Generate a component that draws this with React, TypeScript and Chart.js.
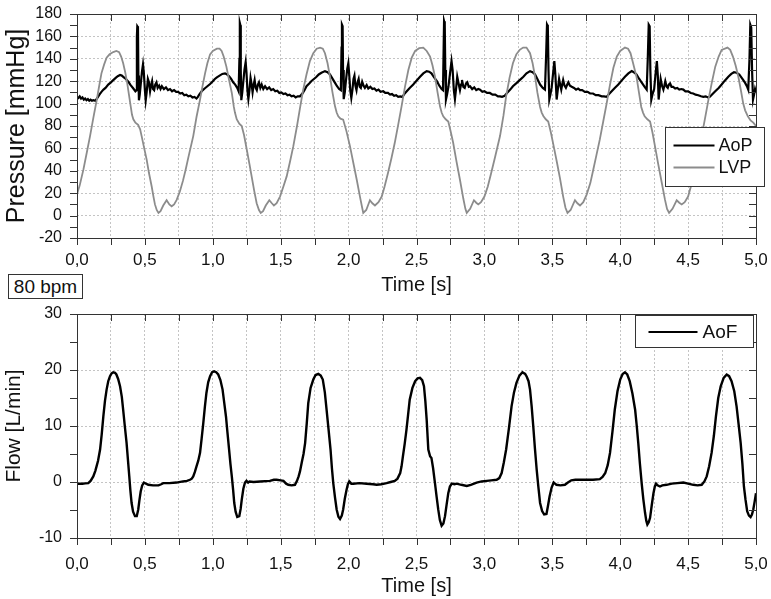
import React, { useEffect, useRef } from "react";
import { Chart, registerables } from "chart.js";

Chart.register(...registerables);

const FONT = '"Liberation Sans", Arial, Helvetica, sans-serif';

// Axis ranges and tick spacing
const timeRange = [0, 5];
const timeStep = 0.25;
const pressureRange = [-20, 180];
const pressureStep = 10;
const flowRange = [-10, 30];
const flowStep = 5;

// Left ventricular pressure [mmHg] over time [s]
const lvpSeries: [number, number][] = [
  [0, 19], [0.02, 27], [0.047, 41], [0.07, 55], [0.096, 71], [0.12, 87], [0.145, 103], [0.165, 117],
  [0.18, 127], [0.2, 135], [0.218, 141], [0.24, 144], [0.267, 146], [0.29, 147], [0.31, 146], [0.325, 142],
  [0.34, 136], [0.355, 128], [0.37, 118], [0.385, 106], [0.395, 98], [0.405, 90], [0.415, 86], [0.43, 83],
  [0.45, 81], [0.465, 77], [0.476, 71], [0.495, 60], [0.513, 50], [0.53, 38], [0.55, 26], [0.563, 17],
  [0.574, 10], [0.587, 5], [0.6, 2.4], [0.615, 4], [0.635, 9], [0.66, 13.7], [0.68, 10], [0.697, 8.3],
  [0.715, 10], [0.734, 14], [0.758, 21.7], [0.78, 31], [0.8, 41], [0.82, 52], [0.856, 71], [0.88, 88],
  [0.906, 103.6], [0.925, 116], [0.943, 127], [0.96, 136], [0.98, 144], [1.0, 147], [1.03, 149], [1.05, 149],
  [1.065, 147], [1.08, 142], [1.1, 133], [1.12, 121], [1.14, 109.5], [1.155, 97], [1.163, 92], [1.176, 86],
  [1.195, 82], [1.213, 80], [1.23, 72], [1.25, 59], [1.27, 46], [1.286, 35], [1.305, 22], [1.323, 11],
  [1.34, 5], [1.353, 2.4], [1.37, 4], [1.39, 9], [1.416, 13.7], [1.435, 11], [1.45, 9], [1.47, 11],
  [1.495, 17], [1.52, 26], [1.544, 35], [1.57, 49], [1.593, 62], [1.62, 80], [1.642, 96], [1.665, 112],
  [1.69, 126], [1.715, 138], [1.74, 145], [1.765, 149], [1.79, 150], [1.81, 149], [1.826, 145], [1.845, 136],
  [1.863, 124], [1.88, 111], [1.9, 97.6], [1.912, 92], [1.924, 88.7], [1.94, 86.5], [1.96, 85.7], [1.985, 75],
  [2.01, 62], [2.035, 47], [2.06, 32], [2.085, 16], [2.1, 7], [2.108, 2.4], [2.13, 5], [2.157, 13.7],
  [2.175, 11], [2.194, 9], [2.22, 12], [2.244, 17], [2.265, 26], [2.29, 38], [2.315, 51], [2.34, 65],
  [2.365, 81], [2.39, 97.6], [2.415, 115], [2.44, 130], [2.465, 141], [2.49, 147], [2.52, 149.5], [2.55, 150],
  [2.575, 147], [2.6, 142], [2.618, 134], [2.636, 124], [2.655, 110], [2.673, 97.6], [2.685, 92], [2.697, 88.7],
  [2.715, 86], [2.734, 84], [2.75, 76], [2.77, 65], [2.795, 48], [2.82, 32], [2.845, 15], [2.86, 6],
  [2.87, 2.4], [2.895, 6], [2.923, 13.7], [2.94, 11.5], [2.955, 10], [2.975, 12], [3.0, 17], [3.025, 26],
  [3.05, 38], [3.08, 53], [3.115, 71], [3.14, 89], [3.16, 106.5], [3.185, 123], [3.21, 136], [3.235, 144],
  [3.26, 148], [3.285, 150], [3.31, 150], [3.336, 145], [3.355, 136], [3.373, 124], [3.39, 110], [3.41, 97],
  [3.422, 92], [3.434, 89], [3.452, 86], [3.47, 84], [3.49, 74], [3.51, 62], [3.535, 47], [3.557, 33],
  [3.58, 17], [3.597, 7], [3.612, 2.4], [3.635, 5], [3.667, 13.7], [3.685, 11], [3.704, 9], [3.728, 12],
  [3.753, 18.75], [3.78, 29], [3.8, 40], [3.825, 54], [3.85, 68], [3.875, 84], [3.9, 100], [3.925, 117],
  [3.95, 132], [3.975, 142], [4.0, 147], [4.035, 150], [4.058, 149], [4.076, 145], [4.095, 136], [4.12, 124],
  [4.138, 110], [4.155, 97], [4.168, 92], [4.18, 88.7], [4.2, 86], [4.22, 84], [4.238, 74], [4.256, 62],
  [4.28, 46], [4.305, 30], [4.33, 14], [4.345, 6], [4.36, 2.4], [4.385, 6], [4.416, 13.7], [4.435, 11.5],
  [4.453, 10], [4.475, 12], [4.5, 17], [4.525, 28], [4.55, 41], [4.575, 56], [4.6, 71], [4.625, 87],
  [4.65, 103.6], [4.675, 119], [4.7, 133], [4.725, 142], [4.747, 148], [4.79, 150], [4.81, 148], [4.83, 142],
  [4.85, 134], [4.87, 124], [4.89, 111], [4.906, 100], [4.92, 94], [4.94, 88.7], [4.96, 85], [4.98, 83],
  [5.0, 80],
];

// Aortic pressure [mmHg] over time [s]
const aopSeries: [number, number][] = [
  [0, 106], [0.01, 105], [0.02, 106.5], [0.03, 104.5], [0.04, 105.5], [0.05, 103.5], [0.06, 104.5], [0.07, 103],
  [0.08, 104], [0.09, 102.5], [0.1, 103.5], [0.11, 102.5], [0.12, 103], [0.135, 102.5], [0.15, 105], [0.165, 108],
  [0.18, 110.5], [0.195, 112.5], [0.21, 114], [0.23, 117], [0.25, 119], [0.267, 121], [0.285, 123], [0.3, 124.5],
  [0.317, 125.5], [0.33, 125], [0.345, 123.5], [0.36, 122], [0.378, 119.5], [0.395, 116.5], [0.415, 113.5], [0.43, 111],
  [0.438, 112], [0.441, 160], [0.444, 169], [0.449, 168], [0.452, 125], [0.456, 103], [0.462, 108], [0.47, 118],
  [0.478, 128], [0.486, 135], [0.492, 128], [0.5, 112], [0.506, 103], [0.513, 110], [0.522, 122], [0.53, 119],
  [0.538, 111], [0.545, 116], [0.553, 120], [0.56, 113], [0.568, 112], [0.576, 117], [0.585, 119], [0.594, 114],
  [0.605, 116], [0.615, 113], [0.625, 115.5], [0.64, 113], [0.655, 114.5], [0.67, 112], [0.685, 113], [0.7, 111],
  [0.715, 112], [0.73, 110.5], [0.745, 110.5], [0.76, 109], [0.775, 109.5], [0.79, 107.5], [0.805, 108], [0.82, 106.5],
  [0.835, 107], [0.85, 105.5], [0.865, 106], [0.88, 104.5], [0.89, 106],
  [0.9, 108], [0.918, 111], [0.94, 113.5], [0.96, 115.5], [0.98, 117.5], [1.0, 120], [1.015, 122], [1.03, 123.5],
  [1.05, 125], [1.07, 126.5], [1.09, 127], [1.105, 126], [1.12, 124.5], [1.135, 122], [1.15, 119], [1.165, 117],
  [1.18, 114], [1.19, 111], [1.196, 140], [1.199, 172], [1.203, 170], [1.206, 130], [1.21, 103], [1.217, 110],
  [1.225, 120], [1.233, 130], [1.242, 137], [1.248, 128], [1.255, 112], [1.262, 104], [1.27, 112], [1.278, 123],
  [1.285, 118], [1.293, 110], [1.3, 116], [1.308, 121], [1.316, 114], [1.324, 112], [1.332, 117], [1.34, 119],
  [1.35, 114], [1.36, 117], [1.372, 113], [1.385, 115.5], [1.4, 113], [1.415, 114.5], [1.43, 112], [1.445, 113],
  [1.46, 111], [1.475, 111.5], [1.49, 109.5], [1.505, 110], [1.52, 108.5], [1.535, 109], [1.55, 107.5], [1.565, 108],
  [1.58, 106.5], [1.595, 107], [1.61, 105.5], [1.625, 106.5], [1.642, 106.5],
  [1.66, 109], [1.675, 112], [1.69, 115.5], [1.71, 118], [1.725, 120], [1.74, 121.5], [1.76, 123.5], [1.78, 126],
  [1.8, 127.5], [1.826, 129], [1.845, 128], [1.863, 126], [1.88, 122.5], [1.9, 118.5], [1.915, 115.5], [1.93, 113],
  [1.943, 112], [1.948, 150], [1.951, 170.5], [1.956, 169], [1.959, 130], [1.964, 104], [1.972, 110], [1.98, 120],
  [1.99, 131], [1.998, 136], [2.005, 125], [2.012, 112], [2.02, 105], [2.028, 112], [2.036, 122], [2.043, 125],
  [2.05, 116], [2.058, 112], [2.066, 119], [2.074, 122], [2.082, 115], [2.09, 114], [2.1, 119.5], [2.11, 116],
  [2.12, 114], [2.133, 116.5], [2.145, 113.5], [2.16, 115], [2.175, 113], [2.19, 113.5], [2.205, 111.5], [2.22, 112.5],
  [2.235, 110.5], [2.255, 111], [2.27, 109.5], [2.29, 109.5], [2.305, 108], [2.32, 108.5], [2.335, 107], [2.35, 107.5],
  [2.365, 106], [2.38, 106.5], [2.395, 106],
  [2.41, 108.5], [2.428, 111], [2.45, 114], [2.476, 117], [2.5, 120.5], [2.526, 124], [2.55, 127], [2.575, 129],
  [2.593, 128.5], [2.61, 127], [2.63, 123.5], [2.65, 120], [2.668, 116], [2.685, 113], [2.695, 112], [2.7, 150],
  [2.703, 173.5], [2.708, 171], [2.712, 130], [2.717, 103.6], [2.725, 108], [2.735, 115], [2.746, 126], [2.758, 138],
  [2.766, 130], [2.775, 112], [2.783, 104], [2.792, 114], [2.8, 124], [2.81, 118], [2.82, 112], [2.828, 117],
  [2.835, 121], [2.845, 115], [2.855, 114], [2.865, 118], [2.874, 119], [2.885, 115], [2.895, 115.5], [2.91, 113],
  [2.925, 114.5], [2.94, 112], [2.955, 113], [2.968, 112.5], [2.985, 110.5], [3.0, 111], [3.02, 109.5], [3.04, 109.5],
  [3.06, 108], [3.08, 108], [3.1, 106.5], [3.115, 106.5], [3.13, 106], [3.15, 107],
  [3.17, 110], [3.19, 112.5], [3.21, 115.5], [3.238, 118.5], [3.26, 121], [3.287, 124], [3.31, 127], [3.336, 129],
  [3.355, 128], [3.373, 126], [3.39, 122], [3.41, 117], [3.43, 114], [3.446, 112.5], [3.455, 145], [3.461, 170.5],
  [3.467, 169], [3.472, 130], [3.478, 103.6], [3.486, 108], [3.495, 114], [3.505, 126], [3.515, 138], [3.523, 125],
  [3.532, 103.6], [3.541, 113], [3.55, 122], [3.558, 117], [3.566, 112.5], [3.573, 117], [3.58, 121], [3.59, 116],
  [3.6, 114], [3.61, 117], [3.618, 119], [3.63, 116], [3.643, 115], [3.66, 114], [3.675, 112.5], [3.69, 113.5],
  [3.704, 112], [3.72, 112], [3.74, 110.5], [3.76, 110.5], [3.778, 109], [3.8, 109], [3.82, 107.5], [3.84, 107.5],
  [3.864, 106.5], [3.88, 106.5], [3.9, 106],
  [3.918, 108.5], [3.937, 111], [3.96, 114], [3.986, 117], [4.01, 120.5], [4.035, 124], [4.06, 127], [4.085, 129],
  [4.1, 128], [4.12, 126], [4.14, 122], [4.16, 118.5], [4.18, 115], [4.195, 112.5], [4.203, 140], [4.21, 170.5],
  [4.217, 169], [4.222, 130], [4.229, 103.6], [4.237, 108], [4.25, 113], [4.26, 126], [4.27, 138], [4.277, 125],
  [4.283, 103.6], [4.29, 112], [4.298, 122], [4.308, 116], [4.318, 112.5], [4.325, 116], [4.332, 120], [4.342, 115],
  [4.35, 114], [4.358, 117], [4.367, 118], [4.378, 115], [4.39, 115], [4.405, 113.5], [4.42, 114], [4.435, 112.5],
  [4.45, 113], [4.465, 112.5], [4.48, 111], [4.5, 111], [4.52, 109.5], [4.538, 109], [4.555, 108], [4.575, 107.5],
  [4.595, 106.5], [4.612, 106], [4.63, 106.5], [4.645, 105.5], [4.66, 106],
  [4.68, 108.5], [4.7, 111], [4.725, 114], [4.747, 117], [4.77, 120.5], [4.796, 124], [4.818, 126.5], [4.838, 128],
  [4.857, 127.5], [4.877, 126], [4.9, 122], [4.92, 118.5], [4.935, 115], [4.943, 112.5], [4.952, 140], [4.958, 170.5],
  [4.965, 168], [4.971, 130], [4.978, 103.6], [4.986, 108], [4.993, 113], [5.0, 110],
];

// Aortic flow [L/min] over time [s]
const aofSeries: [number, number][] = [
  [0, -0.3], [0.02, -0.3], [0.04, -0.3], [0.06, -0.25], [0.083, -0.2], [0.1, 0.2], [0.12, 1.0], [0.135, 2.0],
  [0.144, 2.8], [0.155, 3.8], [0.17, 5.8], [0.182, 8.5], [0.194, 11.7], [0.206, 14.5], [0.218, 16.5], [0.23, 18],
  [0.243, 18.9], [0.255, 19.4], [0.267, 19.6], [0.28, 19.5], [0.29, 19.2], [0.303, 18.4], [0.317, 17.1], [0.33, 15.2],
  [0.34, 12.9], [0.352, 10], [0.365, 7.0], [0.375, 4], [0.385, 1.0], [0.393, -1.5], [0.402, -3.75], [0.413, -5.3],
  [0.427, -6.1], [0.44, -6.1], [0.451, -4.9], [0.46, -3.2], [0.469, -1.7], [0.48, -0.6], [0.493, -0.1], [0.508, -0.3],
  [0.525, -0.5], [0.56, -0.6], [0.6, -0.6], [0.62, -0.4], [0.635, -0.2], [0.68, -0.2], [0.733, -0.1], [0.78, 0.1],
  [0.81, 0.2], [0.832, 0.4], [0.845, 0.6], [0.856, 1.0], [0.868, 1.8], [0.88, 2.8], [0.893, 3.8], [0.906, 5.2],
  [0.918, 7.8], [0.93, 10.5], [0.942, 13.5], [0.953, 15.9], [0.966, 17.8], [0.98, 18.9], [0.995, 19.6], [1.01, 19.75],
  [1.025, 19.6], [1.04, 19.2], [1.056, 18.2], [1.072, 16.5], [1.085, 14], [1.097, 11.7], [1.108, 8.8], [1.12, 5.8],
  [1.13, 3.2], [1.14, 1.0], [1.15, -1.5], [1.158, -3.75], [1.168, -5.3], [1.18, -6.25], [1.195, -6.1], [1.205, -4.8],
  [1.213, -3.2], [1.225, -1.2], [1.237, -0.1], [1.248, 0.2], [1.26, -0.1], [1.27, 0.1], [1.3, 0], [1.35, 0.1],
  [1.42, 0.2], [1.45, 0.4], [1.47, 0.4], [1.5, 0.3], [1.52, 0.2], [1.54, -0.3], [1.556, -0.5], [1.58, -0.6],
  [1.605, -0.5], [1.62, 0.2], [1.632, 1.0], [1.642, 1.9], [1.655, 3.5], [1.668, 5.0], [1.68, 7.0], [1.692, 10.5],
  [1.703, 14.1], [1.72, 16.8], [1.74, 18.3], [1.757, 19.1], [1.777, 19.3], [1.795, 19.0], [1.81, 18.3], [1.825, 16],
  [1.838, 12.9], [1.852, 9.5], [1.867, 5.8], [1.877, 2.5], [1.887, -0.2], [1.9, -2.8], [1.912, -4.9], [1.925, -6.2],
  [1.937, -6.6], [1.95, -6.0], [1.96, -4.9], [1.972, -3.0], [1.985, -1.4], [1.995, -0.4], [2.005, 0.1], [2.02, -0.3],
  [2.035, -0.3], [2.08, -0.2], [2.133, -0.3], [2.18, -0.4], [2.207, -0.5], [2.24, -0.4], [2.28, -0.2], [2.31, 0],
  [2.34, 0.2], [2.36, 0.6], [2.38, 1.6], [2.39, 2.8], [2.4, 4.6], [2.413, 6.8], [2.426, 9.3], [2.438, 12],
  [2.45, 14.7], [2.47, 16.8], [2.49, 18], [2.508, 18.5], [2.526, 18.6], [2.542, 18.2], [2.555, 17.1], [2.565, 14.5],
  [2.575, 11.1], [2.587, 5.8], [2.6, 4.6], [2.61, 4.3], [2.622, 2.5], [2.636, -0.2], [2.648, -2.6], [2.66, -4.9],
  [2.672, -6.8], [2.685, -7.8], [2.698, -7.4], [2.71, -6.1], [2.722, -4], [2.734, -2], [2.746, -0.8], [2.76, -0.3],
  [2.78, -0.4], [2.795, -0.3], [2.83, -0.5], [2.87, -0.7], [2.9, -0.5], [2.943, -0.1], [2.98, 0.1], [3.017, 0.2],
  [3.05, 0.3], [3.09, 0.4], [3.11, 0.7], [3.127, 1.6], [3.143, 3.5], [3.16, 5.8], [3.18, 9.5], [3.2, 13.5],
  [3.218, 16], [3.236, 17.7], [3.258, 19], [3.28, 19.6], [3.3, 19.3], [3.312, 18.8], [3.325, 18], [3.336, 16.5],
  [3.348, 13.5], [3.36, 9.9], [3.372, 6], [3.385, 2.2], [3.397, -0.8], [3.41, -3.75], [3.425, -5.2], [3.44, -5.8],
  [3.457, -5.7], [3.468, -4.3], [3.48, -2.6], [3.495, -1.0], [3.51, -0.1], [3.52, -0.3], [3.53, -0.5], [3.56, -0.6],
  [3.593, -0.5], [3.615, -0.1], [3.64, 0.3], [3.67, 0.4], [3.704, 0.4], [3.75, 0.4], [3.8, 0.4], [3.85, 0.5],
  [3.87, 0.9], [3.89, 1.6], [3.908, 3.0], [3.925, 5.2], [3.943, 9], [3.96, 12.9], [3.98, 16.2], [4.0, 18.3],
  [4.018, 19.3], [4.035, 19.6], [4.052, 19.2], [4.07, 18], [4.09, 15.8], [4.11, 12.9], [4.122, 10], [4.133, 7],
  [4.145, 3.3], [4.158, -0.2], [4.17, -3], [4.183, -5.5], [4.192, -6.9], [4.2, -7.6], [4.21, -7.2], [4.22, -6.4],
  [4.232, -4.2], [4.245, -2], [4.255, -0.8], [4.264, -0.3], [4.275, -0.6], [4.293, -0.8], [4.31, -0.6], [4.342, -0.5],
  [4.38, -0.3], [4.42, -0.2], [4.465, -0.1], [4.5, -0.3], [4.538, -0.5], [4.57, -0.6], [4.6, -0.5], [4.62, 0.1],
  [4.637, 1.0], [4.655, 2.8], [4.673, 5.2], [4.69, 8.3], [4.705, 11.7], [4.722, 15], [4.74, 17.1], [4.762, 18.6],
  [4.784, 19.2], [4.802, 18.9], [4.82, 18], [4.84, 16.2], [4.857, 13.5], [4.872, 10.3], [4.887, 7], [4.9, 3.2],
  [4.911, -0.8], [4.923, -3.2], [4.935, -5.2], [4.948, -6.0], [4.96, -6.25], [4.97, -5.8], [4.98, -4.9], [4.99, -3.5],
  [5.0, -2],
];

const LVP_COLOR = "#8c8c8c";
const INK = "#111111";
const GRID = "#c4c4c4";

type LegendItem = { label: string; color: string; width: number };
type FrameOpts = {
  legend: {
    dx: number; dy: number; w: number; h: number;
    lineX0: number; lineX1: number; textX: number; rowY: number[];
    fontSize: number; items: LegendItem[];
  };
};

// Draws the plot frame, mirrored tick marks and an opaque legend box
const framePlugin = {
  id: "frameTicks",
  afterDatasetsDraw(chart: any, _args: any, opts: FrameOpts) {
    const { ctx, chartArea: a, scales } = chart;
    const xs = scales.x;
    const ys = scales.y;
    const len = 7;
    ctx.save();
    ctx.strokeStyle = "#333";
    ctx.lineWidth = 1;
    ctx.strokeRect(Math.round(a.left) + 0.5, Math.round(a.top) + 0.5, Math.round(a.right - a.left), Math.round(a.bottom - a.top));
    ctx.beginPath();
    xs.ticks.forEach((t: any) => {
      const px = Math.round(xs.getPixelForValue(t.value)) + 0.5;
      ctx.moveTo(px, a.bottom); ctx.lineTo(px, a.bottom + len);
      ctx.moveTo(px, a.top); ctx.lineTo(px, a.top + len);
    });
    ys.ticks.forEach((t: any) => {
      const py = Math.round(ys.getPixelForValue(t.value)) + 0.5;
      ctx.moveTo(a.left - len, py); ctx.lineTo(a.left, py);
      ctx.moveTo(a.right, py); ctx.lineTo(a.right - len, py);
    });
    ctx.stroke();

    const lg = opts.legend;
    const bx = Math.round(a.right + lg.dx) + 0.5;
    const by = Math.round(a.top + lg.dy) + 0.5;
    ctx.fillStyle = "#ffffff";
    ctx.fillRect(bx, by, lg.w, lg.h);
    ctx.strokeStyle = "#333";
    ctx.lineWidth = 1;
    ctx.strokeRect(bx, by, lg.w, lg.h);
    ctx.font = `${lg.fontSize}px ${FONT}`;
    ctx.textBaseline = "middle";
    ctx.textAlign = "left";
    lg.items.forEach((it, i) => {
      const ry = by + lg.rowY[i];
      ctx.strokeStyle = it.color;
      ctx.lineWidth = it.width;
      ctx.beginPath();
      ctx.moveTo(bx + lg.lineX0, ry);
      ctx.lineTo(bx + lg.lineX1, ry);
      ctx.stroke();
      ctx.fillStyle = INK;
      ctx.fillText(it.label, bx + lg.textX, ry + 1);
    });
    ctx.restore();
  },
};

const fmtTime = (v: number) => (Math.round(v * 4) % 2 === 0 ? v.toFixed(1).replace(".", ",") : "");

function makeConfig(
  datasets: any[],
  yRange: number[],
  yStep: number,
  yLabelEvery: number,
  yTitle: string,
  yTitleSize: number,
  axisHeight: number,
  xTickPad: number,
  titleBottomPad: number,
  legend: FrameOpts["legend"],
) {
  return {
    type: "line",
    data: { datasets },
    plugins: [framePlugin],
    options: {
      responsive: false,
      animation: false,
      events: [],
      layout: { padding: { top: 14, right: 15, left: 0, bottom: 0 } },
      elements: { point: { radius: 0 }, line: { tension: 0 } },
      plugins: {
        legend: { display: false },
        tooltip: { enabled: false },
        frameTicks: { legend },
      },
      scales: {
        x: {
          type: "linear",
          min: timeRange[0],
          max: timeRange[1],
          afterFit: (s: any) => {
            s.height = axisHeight;
            s.paddingLeft = 0;
            s.paddingRight = 0;
          },
          ticks: {
            stepSize: timeStep,
            autoSkip: false,
            maxRotation: 0,
            padding: xTickPad,
            color: INK,
            font: { family: FONT, size: 17 },
            callback: (v: any) => fmtTime(Number(v)),
          },
          grid: { color: GRID, lineWidth: 1, drawTicks: false },
          border: { display: false, dash: [2, 2] },
          title: {
            display: true,
            text: "Time [s]",
            color: INK,
            font: { family: FONT, size: 20 },
            padding: { top: 0, bottom: titleBottomPad },
          },
        },
        y: {
          type: "linear",
          min: yRange[0],
          max: yRange[1],
          afterFit: (s: any) => {
            s.width = 77;
            s.paddingTop = 0;
            s.paddingBottom = 0;
          },
          ticks: {
            stepSize: yStep,
            autoSkip: false,
            padding: 15,
            color: INK,
            font: { family: FONT, size: 16 },
            callback: (v: any) => (Number(v) % yLabelEvery === 0 ? String(v) : ""),
          },
          grid: {
            color: (c: any) => (c.tick && c.tick.value % yLabelEvery === 0 ? GRID : "rgba(0,0,0,0)"),
            lineWidth: 1,
            drawTicks: false,
          },
          border: { display: false, dash: [2, 2] },
          title: {
            display: true,
            text: yTitle,
            color: INK,
            font: { family: FONT, size: yTitleSize },
            padding: { top: 2, bottom: 0 },
          },
        },
      },
    },
  };
}

const toXY = (s: [number, number][]) => s.map(([x, y]) => ({ x, y }));

export default function App() {
  const topRef = useRef<HTMLCanvasElement>(null);
  const bottomRef = useRef<HTMLCanvasElement>(null);

  useEffect(() => {
    const top = new Chart(
      topRef.current as HTMLCanvasElement,
      makeConfig(
        [
          { label: "LVP", data: toXY(lvpSeries), borderColor: LVP_COLOR, borderWidth: 1.8 },
          { label: "AoP", data: toXY(aopSeries), borderColor: "#000", borderWidth: 2.2 },
        ],
        pressureRange,
        pressureStep,
        20,
        "Pressure [mmHg]",
        25,
        62,
        12,
        3,
        {
          dx: -91, dy: 113, w: 99, h: 59,
          lineX0: 8, lineX1: 49, textX: 53, rowY: [18, 40], fontSize: 18,
          items: [
            { label: "AoP", color: "#000", width: 2 },
            { label: "LVP", color: LVP_COLOR, width: 2 },
          ],
        },
      ) as any,
    );
    const bottom = new Chart(
      bottomRef.current as HTMLCanvasElement,
      makeConfig(
        [{ label: "AoF", data: toXY(aofSeries), borderColor: "#000", borderWidth: 2.4 }],
        flowRange,
        flowStep,
        10,
        "Flow [L/min]",
        21,
        61,
        16,
        1,
        {
          dx: -121, dy: 1, w: 118, h: 32,
          lineX0: 13, lineX1: 62, textX: 67, rowY: [16.5], fontSize: 19,
          items: [{ label: "AoF", color: "#000", width: 2 }],
        },
      ) as any,
    );
    return () => {
      top.destroy();
      bottom.destroy();
    };
  }, []);

  return (
    <div style={{ position: "absolute", left: 0, top: 0, width: 771, height: 599, background: "#fff", overflow: "hidden" }}>
      <canvas ref={topRef} width={771} height={300} style={{ position: "absolute", left: 0, top: 0 }} />
      <canvas ref={bottomRef} width={771} height={299} style={{ position: "absolute", left: 0, top: 300 }} />
      <div
        style={{
          position: "absolute",
          left: 8,
          top: 274,
          width: 75,
          height: 25,
          boxSizing: "border-box",
          border: "1px solid #333",
          background: "#fff",
          fontFamily: FONT,
          fontSize: 19,
          lineHeight: "23px",
          textAlign: "center",
          color: INK,
        }}
      >
        80 bpm
      </div>
    </div>
  );
}
